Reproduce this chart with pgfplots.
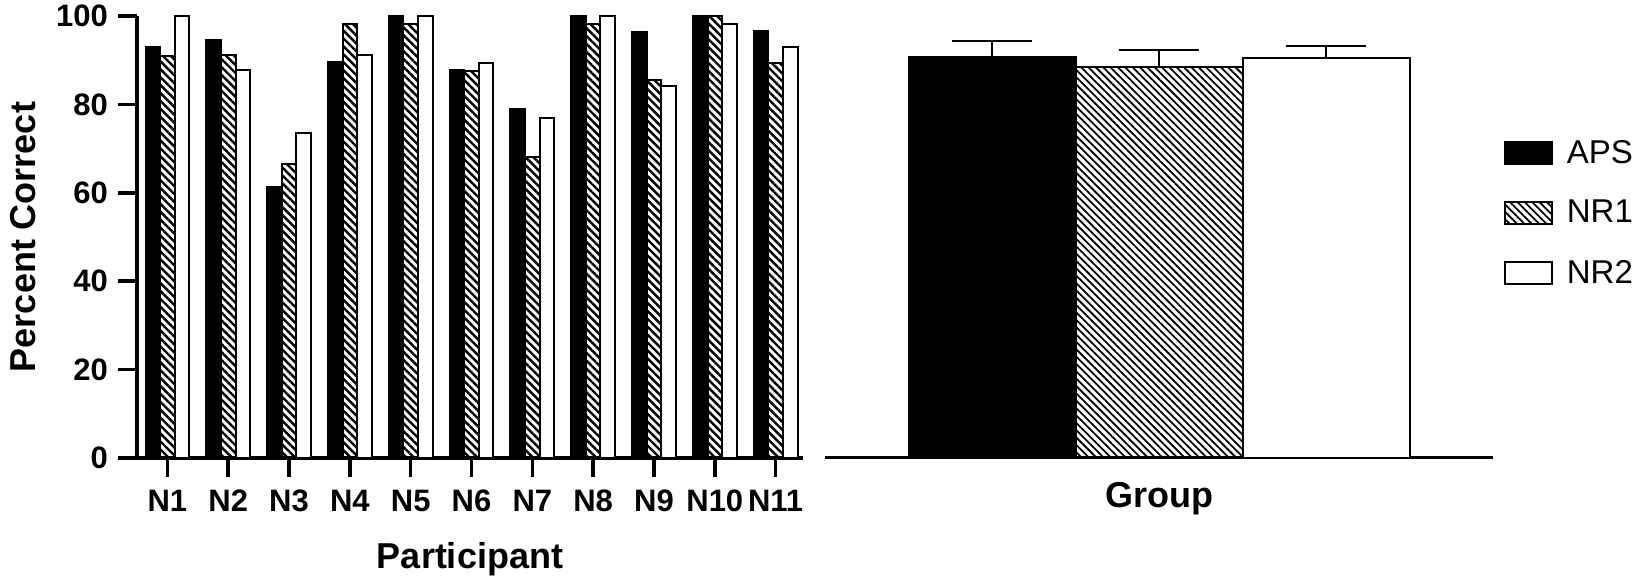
\documentclass[border=0pt]{standalone}
\usepackage{pgfplots}
\pgfplotsset{compat=1.18}
\usepackage{pgfplotstable}
\usepackage{fontspec}
\setmainfont{Liberation Sans}
\usetikzlibrary{patterns.meta}

\pgfplotstableread{
x APS NR1 NR2
1 93.0 90.9 100
2 94.6 91.2 87.7
3 61.3 66.5 73.5
4 89.5 98.3 91.2
5 100 98.3 100
6 87.7 87.5 89.4
7 78.9 68.2 77.0
8 100 98.3 100
9 96.3 85.6 84.1
10 100 100 98.3
11 96.5 89.4 93.0
}\participants

\begin{document}
\begin{tikzpicture}
\path[use as bounding box] (0,0) rectangle (825pt,291pt);
\begin{axis}[
  at={(68.5pt,62pt)}, anchor=south west,
  scale only axis, width=333pt, height=221pt,
  xmin=0.5, xmax=11.45, ymin=0, ymax=100,
  axis x line=bottom, axis y line=left,
  axis line style={-, line width=1.75pt},
  tick style={line width=1.75pt, black},
  tick align=outside, major tick length=9.5pt,
  xtick={1,...,11},
  xticklabels={N1,N2,N3,N4,N5,N6,N7,N8,N9,N10,N11},
  ytick={0,20,40,60,80,100},
  /pgf/number format/assume math mode=true,
  tick label style={font=\bfseries\fontsize{15.5}{15.5}\selectfont},
  xticklabel style={yshift=-3pt},
  yticklabel style={xshift=-1.5pt},
  every axis x label/.style={at={(axis description cs:0.5,-0.2489)}, anchor=base, font=\bfseries\fontsize{18}{18}\selectfont},
  every axis y label/.style={at={(axis description cs:-0.1517,0.5)}, rotate=90, anchor=base, font=\bfseries\fontsize{18}{18}\selectfont},
  xlabel={Participant}, ylabel={Percent Correct},
  clip=false,
]
\addplot[ybar, bar width=0.24, bar shift=-0.24, fill=black, draw=black, line width=1pt] table[x=x,y=APS]{\participants};
\addplot[ybar, bar width=0.24, bar shift=0, draw=black, line width=1pt, pattern={Lines[angle=-45,distance=2.8pt,line width=1.2pt]}, pattern color=black] table[x=x,y=NR1]{\participants};
\addplot[ybar, bar width=0.24, bar shift=0.24, fill=white, draw=black, line width=1pt] table[x=x,y=NR2]{\participants};
\end{axis}

\begin{axis}[
  at={(412.5pt,62pt)}, anchor=south west,
  scale only axis, width=334pt, height=221pt,
  xmin=-2, xmax=2, ymin=0, ymax=100,
  axis x line=bottom, axis y line=none,
  axis line style={-, line width=1.5pt},
  xtick=\empty, ytick=\empty,
  every axis x label/.style={at={(axis description cs:0.5,-0.1109)}, anchor=base, font=\bfseries\fontsize{18}{18}\selectfont},
  xlabel={Group},
  clip=false,
  legend style={at={(axis description cs:1,0.554)}, anchor=west, xshift=5.5pt, draw=none, fill=none, inner sep=0pt, outer sep=0pt, font=\fontsize{16.5}{16.5}\selectfont, row sep=17pt, column sep=0pt, nodes={inner sep=0pt}},
  legend cell align=left,
  legend image code/.code={\draw[#1, line width=0.9pt] (0pt,-5.5pt) rectangle (23.5pt,5.5pt); \path (30.5pt,0pt);},
]
\addplot[ybar, bar width=1, bar shift=0, fill=black, draw=black, line width=1pt,
  error bars/.cd, y dir=plus, y explicit, error bar style={line width=1pt, black}, error mark options={rotate=90, line width=1pt, mark size=20pt, black}]
  coordinates {(-1,90.7) +- (0,3.6)};
\addplot[ybar, bar width=1, bar shift=0, draw=black, line width=1pt, pattern={Lines[angle=-45,distance=2.6pt,line width=0.9pt]}, pattern color=black,
  error bars/.cd, y dir=plus, y explicit, error bar style={line width=1pt, black}, error mark options={rotate=90, line width=1pt, mark size=20pt, black}]
  coordinates {(0,88.4) +- (0,3.8)};
\addplot[ybar, bar width=1, bar shift=0, fill=white, draw=black, line width=1pt,
  error bars/.cd, y dir=plus, y explicit, error bar style={line width=1pt, black}, error mark options={rotate=90, line width=1pt, mark size=20pt, black}]
  coordinates {(1,90.4) +- (0,2.9)};
\legend{APS,NR1,NR2}
\end{axis}
\end{tikzpicture}
\end{document}
